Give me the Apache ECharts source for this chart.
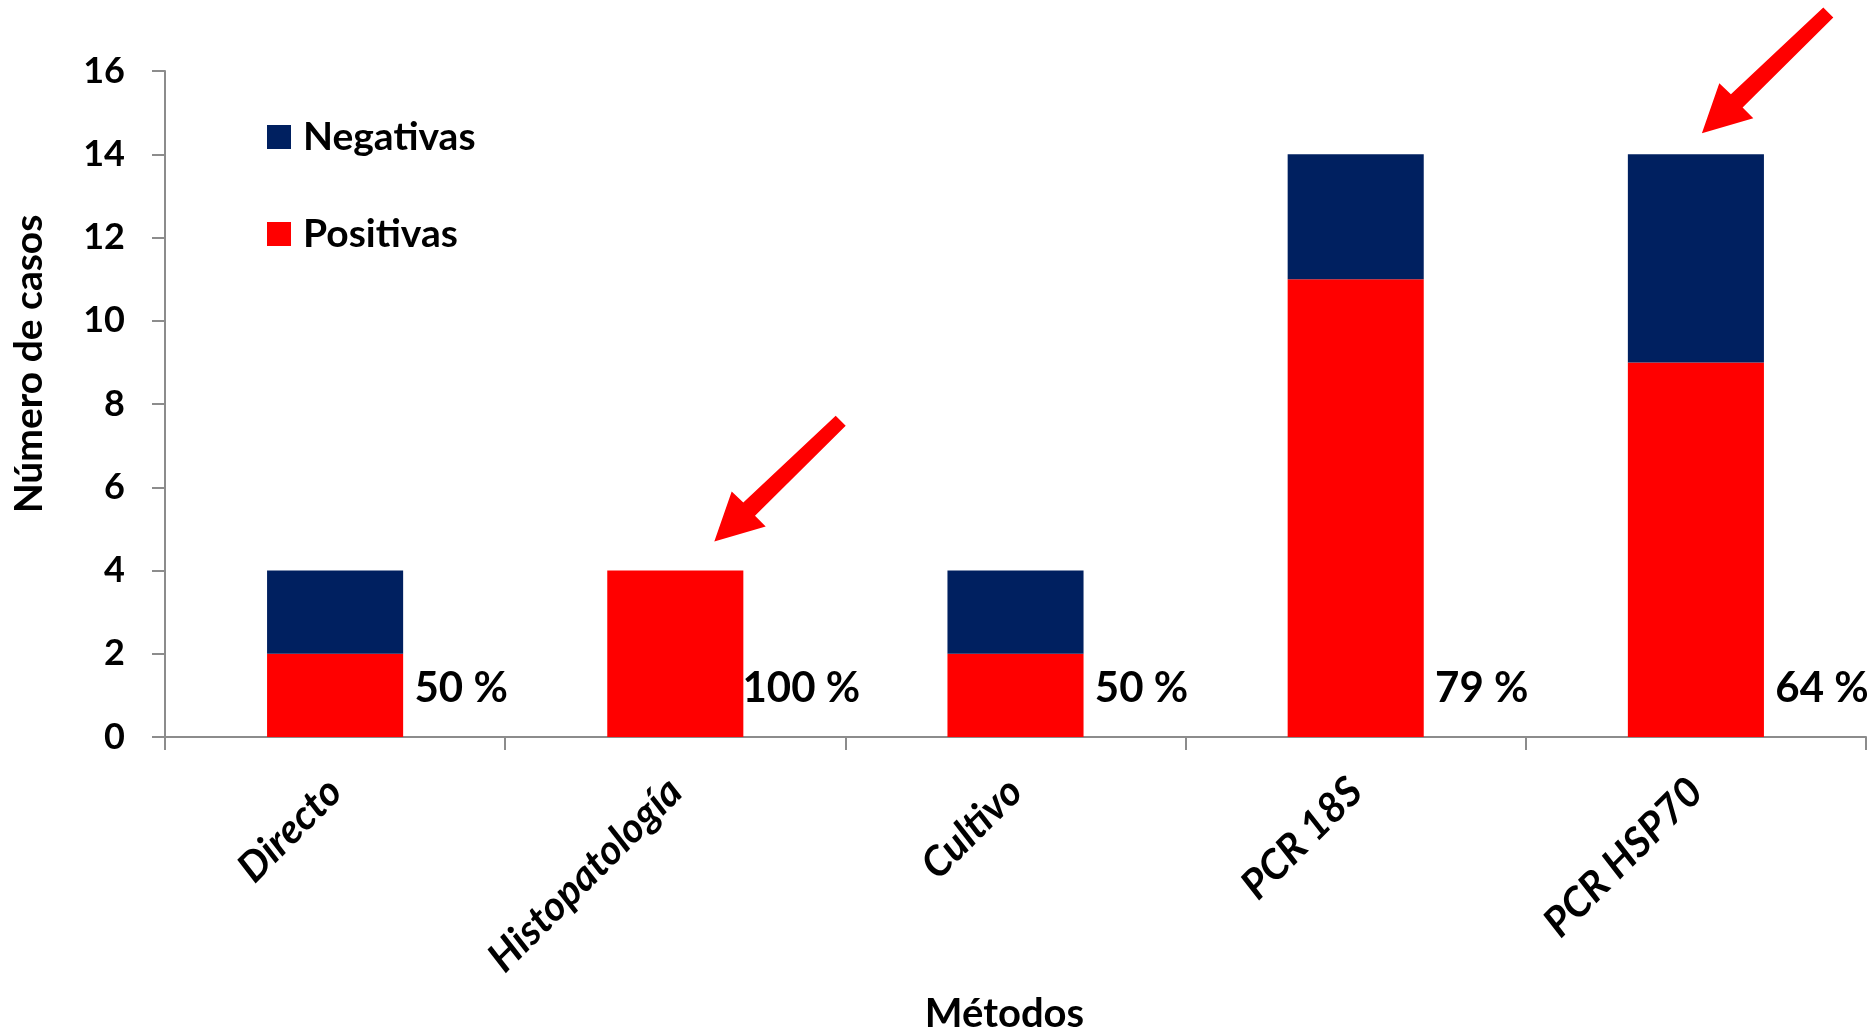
<!DOCTYPE html>
<html>
<head>
<meta charset="utf-8">
<script src="https://cdn.jsdelivr.net/npm/echarts@6/dist/echarts.min.js"></script>
<style>
html,body{margin:0;padding:0;background:#fff;}
#chart{width:1873px;height:1030px;}
</style>
</head>
<body>
<div id="chart"></div>
<script>
const categories = ['Directo', 'Histopatología', 'Cultivo', 'PCR 18S', 'PCR HSP70'];
const positivas = [2, 4, 2, 11, 9];
const negativas = [2, 0, 2, 3, 5];
const yTicks = { min: 0, max: 16, interval: 2 };
const arrowTargets = [1, 4]; // category indexes the arrows point at

const FONT = 'Lato, "Open Sans", sans-serif';
const AXIS_COLOR = '#8c8c8c';
const RED = '#ff0000';
const NAVY = '#002060';

const chart = echarts.init(document.getElementById('chart'));

const legendText = { fontFamily: FONT, fontSize: 39, fontWeight: 'bold', color: '#000', lineHeight: 40, padding: [0, 0, 0, 7] };

const option = {
  animation: false,
  backgroundColor: '#ffffff',
  textStyle: { fontFamily: FONT },
  grid: { left: 165, right: 7, top: 71, bottom: 293, containLabel: false, outerBoundsMode: 'none' },
  legend: [
    {
      data: ['Negativas'], left: 267, top: 117, padding: 0, orient: 'vertical',
      icon: 'rect', itemWidth: 24, itemHeight: 24, textStyle: legendText
    },
    {
      data: ['Positivas'], left: 267, top: 214, padding: 0, orient: 'vertical',
      icon: 'rect', itemWidth: 24, itemHeight: 24, textStyle: legendText
    }
  ],
  xAxis: {
    type: 'category',
    data: categories,
    name: 'Métodos',
    nameLocation: 'middle',
    nameGap: 257,
    nameTextStyle: { fontFamily: FONT, fontSize: 40, fontWeight: 'bold', color: '#000', padding: [0, 22, 0, 0] },
    axisLine: { lineStyle: { color: AXIS_COLOR, width: 2 } },
    axisTick: { show: true, length: 13, lineStyle: { color: AXIS_COLOR, width: 2 } },
    axisLabel: {
      rotate: 45, margin: 48, interval: 0,
      fontFamily: FONT, fontSize: 41, fontWeight: 'bold', fontStyle: 'italic', color: '#000',
      padding: [0, 0, 0, 0]
    }
  },
  yAxis: {
    type: 'value',
    min: yTicks.min, max: yTicks.max, interval: yTicks.interval,
    name: 'Número de casos',
    nameLocation: 'middle',
    nameRotate: 90,
    nameGap: 116,
    nameTextStyle: { fontFamily: FONT, fontSize: 39, fontWeight: 'bold', color: '#000', padding: [0, 0, 0, 80] },
    axisLine: { show: true, lineStyle: { color: AXIS_COLOR, width: 2 } },
    axisTick: { show: true, length: 13, lineStyle: { color: AXIS_COLOR, width: 2 } },
    splitLine: { show: false },
    axisLabel: { margin: 40, fontFamily: FONT, fontSize: 36, fontWeight: 'bold', color: '#000' }
  },
  series: [
    {
      name: 'Positivas', type: 'bar', stack: 'total', data: positivas,
      barWidth: '40%',
      itemStyle: { color: RED },
      label: {
        show: true,
        position: ['100%', '100%'],
        align: 'center', verticalAlign: 'bottom',
        offset: [58, -28],
        fontFamily: FONT, fontSize: 42, fontWeight: 'bold', color: '#000', lineHeight: 42,
        formatter: p => Math.round(positivas[p.dataIndex] / (positivas[p.dataIndex] + negativas[p.dataIndex]) * 100) + ' %'
      }
    },
    {
      name: 'Negativas', type: 'bar', stack: 'total', data: negativas,
      barWidth: '40%',
      itemStyle: { color: NAVY }
    }
  ]
};
chart.setOption(option);

// Arrow annotations, positioned relative to the top of the targeted bars
const arrowShape = [[0, 0], [17.4, -50], [29, -39], [121.4, -125.7], [131.4, -115.7], [40.7, -25.7], [51.4, -15]];
const arrowOffsets = [[39, -29], [6, -21]];
const graphics = arrowTargets.map((ci, k) => {
  const top = chart.convertToPixel({ gridIndex: 0 }, [ci, positivas[ci] + negativas[ci]]);
  return {
    type: 'polygon',
    x: top[0] + arrowOffsets[k][0],
    y: top[1] + arrowOffsets[k][1],
    shape: { points: arrowShape },
    style: { fill: RED },
    z: 100
  };
});
chart.setOption({ graphic: graphics });
</script>
</body>
</html>
